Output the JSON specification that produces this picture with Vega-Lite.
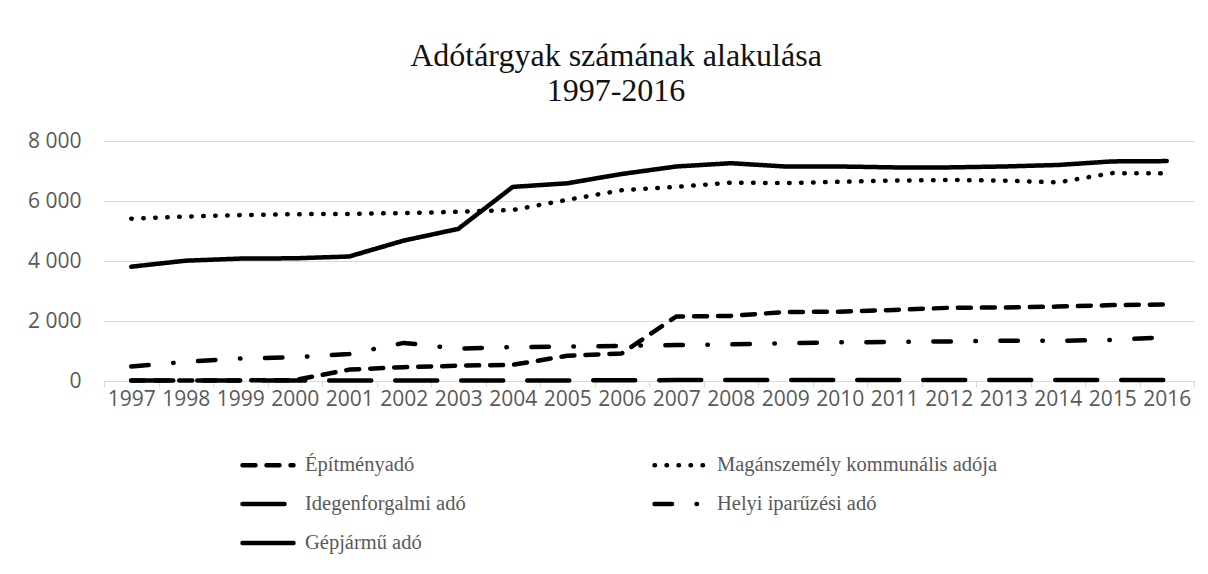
{
  "$schema": "https://vega.github.io/schema/vega-lite/v6.json",
  "autosize": {"type": "none"},
  "width": 1090,
  "height": 240,
  "padding": {"left": 104, "top": 141, "right": 14, "bottom": 193},
  "background": "#ffffff",
  "title": {
    "text": ["Adótárgyak számának alakulása", "1997-2016"],
    "font": "Liberation Serif",
    "fontSize": 32,
    "fontWeight": "normal",
    "lineHeight": 35,
    "color": "#111111",
    "anchor": "middle",
    "dx": -33,
    "offset": 22
  },
  "data": {
    "values": [
      {"year": "1997", "series": "Gépjármű adó", "value": 3810},
      {"year": "1998", "series": "Gépjármű adó", "value": 4010},
      {"year": "1999", "series": "Gépjármű adó", "value": 4080},
      {"year": "2000", "series": "Gépjármű adó", "value": 4090},
      {"year": "2001", "series": "Gépjármű adó", "value": 4150},
      {"year": "2002", "series": "Gépjármű adó", "value": 4680},
      {"year": "2003", "series": "Gépjármű adó", "value": 5070},
      {"year": "2004", "series": "Gépjármű adó", "value": 6470},
      {"year": "2005", "series": "Gépjármű adó", "value": 6590},
      {"year": "2006", "series": "Gépjármű adó", "value": 6900},
      {"year": "2007", "series": "Gépjármű adó", "value": 7150},
      {"year": "2008", "series": "Gépjármű adó", "value": 7260},
      {"year": "2009", "series": "Gépjármű adó", "value": 7150},
      {"year": "2010", "series": "Gépjármű adó", "value": 7150},
      {"year": "2011", "series": "Gépjármű adó", "value": 7120},
      {"year": "2012", "series": "Gépjármű adó", "value": 7120},
      {"year": "2013", "series": "Gépjármű adó", "value": 7150},
      {"year": "2014", "series": "Gépjármű adó", "value": 7200},
      {"year": "2015", "series": "Gépjármű adó", "value": 7320},
      {"year": "2016", "series": "Gépjármű adó", "value": 7330},

      {"year": "1997", "series": "Magánszemély kommunális adója", "value": 5410},
      {"year": "1998", "series": "Magánszemély kommunális adója", "value": 5480},
      {"year": "1999", "series": "Magánszemély kommunális adója", "value": 5530},
      {"year": "2000", "series": "Magánszemély kommunális adója", "value": 5560},
      {"year": "2001", "series": "Magánszemély kommunális adója", "value": 5570},
      {"year": "2002", "series": "Magánszemély kommunális adója", "value": 5600},
      {"year": "2003", "series": "Magánszemély kommunális adója", "value": 5640},
      {"year": "2004", "series": "Magánszemély kommunális adója", "value": 5700},
      {"year": "2005", "series": "Magánszemély kommunális adója", "value": 6040},
      {"year": "2006", "series": "Magánszemély kommunális adója", "value": 6360},
      {"year": "2007", "series": "Magánszemély kommunális adója", "value": 6470},
      {"year": "2008", "series": "Magánszemély kommunális adója", "value": 6610},
      {"year": "2009", "series": "Magánszemély kommunális adója", "value": 6600},
      {"year": "2010", "series": "Magánszemély kommunális adója", "value": 6640},
      {"year": "2011", "series": "Magánszemély kommunális adója", "value": 6680},
      {"year": "2012", "series": "Magánszemély kommunális adója", "value": 6700},
      {"year": "2013", "series": "Magánszemély kommunális adója", "value": 6680},
      {"year": "2014", "series": "Magánszemély kommunális adója", "value": 6620},
      {"year": "2015", "series": "Magánszemély kommunális adója", "value": 6930},
      {"year": "2016", "series": "Magánszemély kommunális adója", "value": 6920},

      {"year": "1997", "series": "Építményadó", "value": 20},
      {"year": "1998", "series": "Építményadó", "value": 20},
      {"year": "1999", "series": "Építményadó", "value": 20},
      {"year": "2000", "series": "Építményadó", "value": 30},
      {"year": "2001", "series": "Építményadó", "value": 380},
      {"year": "2002", "series": "Építményadó", "value": 460},
      {"year": "2003", "series": "Építményadó", "value": 510},
      {"year": "2004", "series": "Építményadó", "value": 540},
      {"year": "2005", "series": "Építményadó", "value": 840},
      {"year": "2006", "series": "Építményadó", "value": 920},
      {"year": "2007", "series": "Építményadó", "value": 2150},
      {"year": "2008", "series": "Építményadó", "value": 2170},
      {"year": "2009", "series": "Építményadó", "value": 2300},
      {"year": "2010", "series": "Építményadó", "value": 2310},
      {"year": "2011", "series": "Építményadó", "value": 2370},
      {"year": "2012", "series": "Építményadó", "value": 2440},
      {"year": "2013", "series": "Építményadó", "value": 2450},
      {"year": "2014", "series": "Építményadó", "value": 2480},
      {"year": "2015", "series": "Építményadó", "value": 2530},
      {"year": "2016", "series": "Építményadó", "value": 2550},

      {"year": "1997", "series": "Idegenforgalmi adó", "value": 15},
      {"year": "1998", "series": "Idegenforgalmi adó", "value": 15},
      {"year": "1999", "series": "Idegenforgalmi adó", "value": 15},
      {"year": "2000", "series": "Idegenforgalmi adó", "value": 15},
      {"year": "2001", "series": "Idegenforgalmi adó", "value": 20},
      {"year": "2002", "series": "Idegenforgalmi adó", "value": 20},
      {"year": "2003", "series": "Idegenforgalmi adó", "value": 20},
      {"year": "2004", "series": "Idegenforgalmi adó", "value": 20},
      {"year": "2005", "series": "Idegenforgalmi adó", "value": 20},
      {"year": "2006", "series": "Idegenforgalmi adó", "value": 25},
      {"year": "2007", "series": "Idegenforgalmi adó", "value": 30},
      {"year": "2008", "series": "Idegenforgalmi adó", "value": 30},
      {"year": "2009", "series": "Idegenforgalmi adó", "value": 30},
      {"year": "2010", "series": "Idegenforgalmi adó", "value": 30},
      {"year": "2011", "series": "Idegenforgalmi adó", "value": 30},
      {"year": "2012", "series": "Idegenforgalmi adó", "value": 30},
      {"year": "2013", "series": "Idegenforgalmi adó", "value": 30},
      {"year": "2014", "series": "Idegenforgalmi adó", "value": 30},
      {"year": "2015", "series": "Idegenforgalmi adó", "value": 30},
      {"year": "2016", "series": "Idegenforgalmi adó", "value": 30},

      {"year": "1997", "series": "Helyi iparűzési adó", "value": 480},
      {"year": "1998", "series": "Helyi iparűzési adó", "value": 640},
      {"year": "1999", "series": "Helyi iparűzési adó", "value": 750},
      {"year": "2000", "series": "Helyi iparűzési adó", "value": 790},
      {"year": "2001", "series": "Helyi iparűzési adó", "value": 900},
      {"year": "2002", "series": "Helyi iparűzési adó", "value": 1270},
      {"year": "2003", "series": "Helyi iparűzési adó", "value": 1080},
      {"year": "2004", "series": "Helyi iparűzési adó", "value": 1130},
      {"year": "2005", "series": "Helyi iparűzési adó", "value": 1150},
      {"year": "2006", "series": "Helyi iparűzési adó", "value": 1170},
      {"year": "2007", "series": "Helyi iparűzési adó", "value": 1200},
      {"year": "2008", "series": "Helyi iparűzési adó", "value": 1220},
      {"year": "2009", "series": "Helyi iparűzési adó", "value": 1260},
      {"year": "2010", "series": "Helyi iparűzési adó", "value": 1290},
      {"year": "2011", "series": "Helyi iparűzési adó", "value": 1300},
      {"year": "2012", "series": "Helyi iparűzési adó", "value": 1320},
      {"year": "2013", "series": "Helyi iparűzési adó", "value": 1340},
      {"year": "2014", "series": "Helyi iparűzési adó", "value": 1340},
      {"year": "2015", "series": "Helyi iparűzési adó", "value": 1370},
      {"year": "2016", "series": "Helyi iparűzési adó", "value": 1460}
    ]
  },
  "mark": {
    "type": "line",
    "color": "#000000",
    "strokeWidth": 4.5,
    "strokeCap": "round",
    "strokeJoin": "round"
  },
  "encoding": {
    "x": {
      "field": "year",
      "type": "nominal",
      "title": null,
      "scale": {"paddingInner": 0, "paddingOuter": 0},
      "axis": {
        "labelAngle": 0,
        "tickBand": "extent",
        "ticks": true,
        "tickSize": 6,
        "tickColor": "#d9d9d9",
        "domainColor": "#d9d9d9",
        "labelPadding": 1,
        "grid": false
      }
    },
    "y": {
      "field": "value",
      "type": "quantitative",
      "title": null,
      "scale": {"domain": [0, 8000]},
      "axis": {
        "values": [0, 2000, 4000, 6000, 8000],
        "format": ",d",
        "labelExpr": "replace(datum.label, ',', ' ')",
        "domain": false,
        "ticks": false,
        "grid": true,
        "gridColor": "#d9d9d9",
        "labelPadding": 23
      }
    },
    "strokeDash": {
      "field": "series",
      "type": "nominal",
      "scale": {
        "domain": ["Építményadó", "Magánszemély kommunális adója", "Idegenforgalmi adó", "Helyi iparűzési adó", "Gépjármű adó"],
        "range": [[13, 11], [0.5, 11.5], [42, 24], [17.5, 24.5, 0.5, 24.5], [1, 0]]
      },
      "legend": {
        "title": null,
        "orient": "none",
        "direction": "horizontal",
        "legendX": 136,
        "legendY": 296,
        "columns": 2,
        "columnPadding": 179,
        "rowPadding": 0,
        "symbolType": "stroke",
        "symbolSize": 2600,
        "symbolStrokeWidth": 4.5,
        "symbolStrokeColor": "#000000",
        "labelFont": "Liberation Serif",
        "labelFontSize": 20.5,
        "labelColor": "#595959",
        "labelOffset": 9,
        "labelLimit": 400,
        "encode": {
          "symbols": {"update": {"strokeCap": {"value": "round"}}}
        }
      }
    }
  },
  "config": {
    "view": {"stroke": null},
    "axis": {
      "labelFont": "Open Sans",
      "labelFontSize": 21,
      "labelColor": "#595959"
    }
  }
}
